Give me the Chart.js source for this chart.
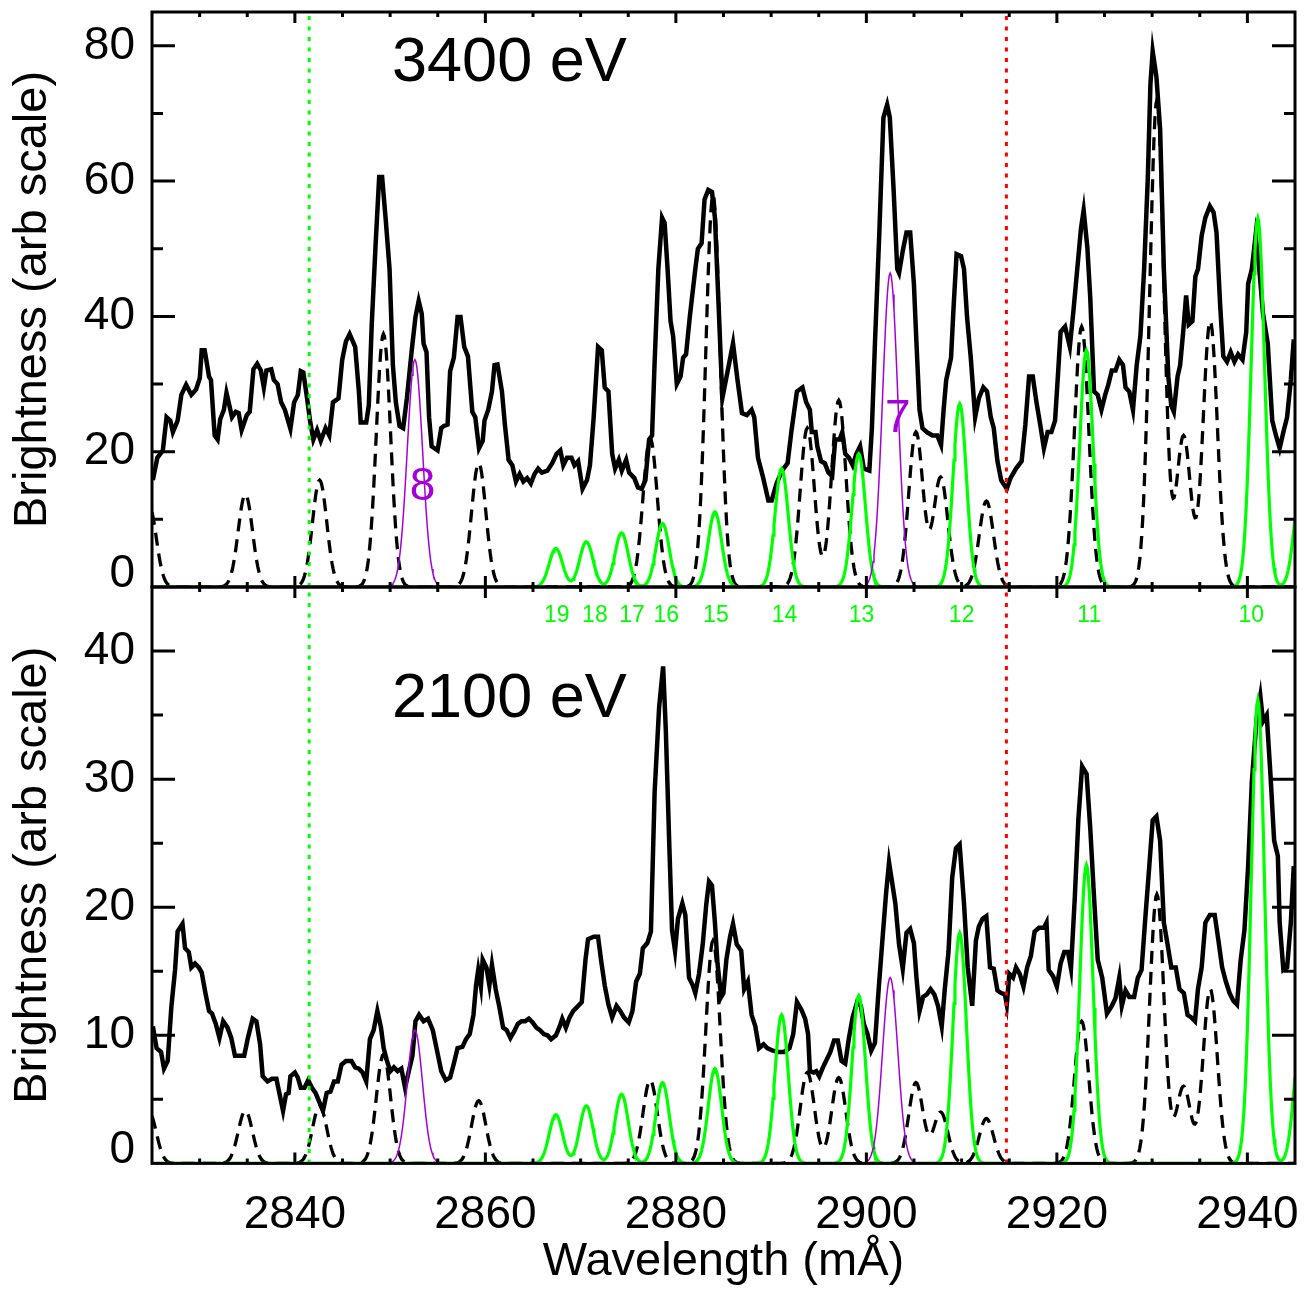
<!DOCTYPE html>
<html>
<head>
<meta charset="utf-8">
<script src="https://cdn.jsdelivr.net/npm/chart.js@4.4.1/dist/chart.umd.min.js"></script>
<style>
  body { margin: 0; background: #fff; }
  #wrap { position: relative; width: 1307px; height: 1289px; }
  canvas { position: absolute; left: 0; }
</style>
</head>
<body>
<div id="wrap">
  <canvas id="topPanel" width="1307" height="600" style="top:0"></canvas>
  <canvas id="bottomPanel" width="1307" height="712" style="top:577px"></canvas>
</div>
<script>
// ---- data ----
var xMin = 2825, xMax = 2945;
var xTicks = [2840, 2860, 2880, 2900, 2920, 2940];
var yTicksTop = [0, 20, 40, 60, 80];
var yTicksBottom = [0, 10, 20, 30, 40];
var markerLines = [2841.5, 2914.7];          // green / red dotted lines
var energies = ['3400 eV', '2100 eV'];

// measured spectrum, 3400 eV
var waveTop = [
  2825.09, 2825.56, 2826.14, 2826.53, 2826.92, 2827.19, 2827.69, 2828.08, 2828.58, 2829.13,
  2829.63, 2830.02, 2830.22, 2830.53, 2830.99, 2831.19, 2831.58, 2831.89, 2832.16, 2832.55,
  2832.82, 2833.13, 2833.40, 2833.79, 2834.10, 2834.41, 2834.95, 2835.26, 2835.65, 2836.04,
  2836.43, 2836.74, 2837.01, 2837.52, 2837.79, 2838.18, 2838.56, 2838.95, 2839.53, 2839.92,
  2840.31, 2840.62, 2840.89, 2841.28, 2841.59, 2841.94, 2842.33, 2842.72, 2843.22, 2843.61,
  2844.00, 2844.58, 2844.97, 2845.36, 2845.75, 2846.33, 2846.72, 2846.91, 2847.49, 2847.76,
  2848.07, 2848.46, 2848.85, 2849.16, 2849.55, 2849.94, 2850.29, 2850.60, 2850.99, 2851.37,
  2851.76, 2852.27, 2852.66, 2853.00, 2853.32, 2853.51, 2853.82, 2854.09, 2854.36, 2854.98,
  2855.37, 2855.64, 2856.03, 2856.30, 2856.69, 2857.08, 2857.39, 2857.78, 2858.17, 2858.63,
  2858.94, 2859.33, 2859.72, 2859.91, 2860.30, 2860.69, 2860.96, 2861.27, 2861.74, 2862.05,
  2862.44, 2862.83, 2863.21, 2863.60, 2863.99, 2864.38, 2864.77, 2865.16, 2865.54, 2865.93,
  2866.51, 2867.02, 2867.48, 2867.87, 2868.18, 2868.57, 2869.04, 2869.35, 2869.74, 2870.20,
  2870.67, 2870.98, 2871.37, 2871.83, 2872.22, 2872.53, 2872.92, 2873.31, 2873.62, 2874.01,
  2874.32, 2874.78, 2875.09, 2875.64, 2876.02, 2876.41, 2876.80, 2877.19, 2877.50, 2877.77,
  2878.16, 2878.55, 2878.82, 2879.13, 2879.44, 2879.71, 2880.10, 2880.49, 2880.76, 2881.07,
  2881.46, 2882.04, 2882.31, 2882.70, 2883.01, 2883.40, 2883.79, 2884.10, 2884.49, 2884.88,
  2886.00, 2886.47, 2886.94, 2887.45, 2887.95, 2888.23, 2888.62, 2889.12, 2889.71, 2890.06,
  2890.57, 2891.15, 2891.73, 2892.12, 2892.71, 2893.29, 2893.68, 2894.07, 2894.27, 2894.66,
  2894.85, 2895.24, 2895.63, 2896.02, 2896.41, 2896.73, 2897.19, 2897.47, 2897.78, 2898.17,
  2898.56, 2898.95, 2899.34, 2899.73, 2900.31, 2900.58, 2900.90, 2901.36, 2901.79, 2902.18,
  2902.46, 2902.85, 2903.24, 2903.43, 2903.82, 2904.21, 2904.60, 2904.99, 2905.26, 2905.58,
  2905.89, 2906.35, 2906.94, 2907.45, 2907.84, 2908.11, 2908.38, 2908.89, 2909.16, 2909.47,
  2909.94, 2910.25, 2910.57, 2910.96, 2911.42, 2911.81, 2912.28, 2912.67, 2913.06, 2913.37,
  2913.76, 2914.15, 2914.74, 2915.13, 2915.71, 2916.30, 2916.69, 2917.08, 2917.47, 2917.86,
  2918.25, 2918.64, 2919.03, 2919.42, 2919.81, 2920.08, 2920.39, 2920.86, 2921.36, 2921.75,
  2922.14, 2922.53, 2922.81, 2923.20, 2923.51, 2923.90, 2924.29, 2924.68, 2925.07, 2925.38,
  2925.77, 2926.16, 2926.55, 2926.94, 2927.21, 2927.60, 2927.99, 2928.38, 2928.77, 2929.16,
  2929.55, 2929.82, 2930.06, 2930.45, 2930.84, 2931.23, 2931.70, 2932.01, 2932.28, 2932.67,
  2932.94, 2933.26, 2933.57, 2933.84, 2934.23, 2934.54, 2934.82, 2935.20, 2935.59, 2936.06,
  2936.45, 2936.76, 2937.15, 2937.47, 2937.86, 2938.25, 2938.64, 2939.03, 2939.49, 2939.88,
  2940.08, 2940.47, 2940.86, 2941.25, 2941.64, 2942.14, 2942.61, 2943.00, 2943.39, 2943.78,
  2944.17, 2944.56, 2944.87
];
var brightTop = [
  15.8, 19.1, 20.2, 25.1, 24.6, 22.9, 24.6, 28.4, 29.9, 28.4,
  29.2, 30.9, 35.0, 35.0, 31.1, 30.6, 22.4, 21.8, 24.8, 26.2,
  28.7, 26.8, 25.1, 25.9, 25.7, 23.2, 25.4, 25.9, 32.2, 33.0,
  32.0, 29.5, 32.0, 32.2, 30.6, 30.0, 27.3, 26.2, 23.4, 27.3,
  28.4, 31.9, 31.7, 27.9, 24.6, 21.8, 23.2, 21.6, 23.5, 22.4,
  27.3, 27.9, 33.6, 36.3, 37.4, 35.5, 28.9, 24.3, 24.3, 26.8,
  38.8, 50.2, 60.6, 60.6, 54.1, 47.0, 32.8, 27.3, 23.8, 23.5,
  27.9, 35.0, 39.9, 42.3, 40.4, 36.0, 34.7, 25.1, 20.8, 20.2,
  23.5, 23.8, 24.0, 31.9, 33.9, 39.9, 39.9, 35.5, 34.1, 25.9,
  25.1, 20.5, 21.6, 24.6, 26.2, 28.9, 32.8, 32.9, 28.9, 24.0,
  18.8, 18.0, 15.6, 16.7, 15.6, 16.1, 15.3, 16.7, 17.5, 16.9,
  17.2, 18.3, 19.7, 20.2, 18.0, 19.1, 19.1, 18.0, 18.6, 14.5,
  15.8, 18.0, 25.1, 35.5, 35.0, 29.5, 28.9, 19.7, 17.5, 18.8,
  17.2, 18.8, 16.9, 16.1, 14.7, 14.5, 15.8, 21.8, 22.4, 33.3,
  47.0, 54.6, 53.8, 47.0, 39.3, 37.1, 30.0, 31.1, 33.9, 34.4,
  39.9, 47.0, 50.0, 50.8, 57.3, 58.7, 58.4, 54.6, 41.5, 27.9,
  36.0, 30.6, 25.7, 25.4, 26.2, 25.1, 19.1, 16.4, 12.8, 12.8,
  15.3, 17.2, 18.3, 22.9, 28.9, 29.5, 27.3, 26.2, 22.9, 22.9,
  20.8, 18.6, 18.3, 16.9, 16.4, 21.8, 21.8, 22.9, 19.7, 19.1,
  18.0, 19.7, 20.8, 17.5, 17.2, 23.5, 36.0, 52.4, 69.4, 71.3,
  69.4, 59.0, 47.0, 46.4, 49.7, 52.4, 52.4, 44.8, 36.0, 26.2,
  23.5, 22.9, 22.4, 22.4, 21.0, 26.2, 30.6, 33.9, 41.5, 49.2,
  48.9, 47.0, 39.9, 33.9, 25.1, 27.9, 29.5, 28.9, 25.1, 23.5,
  18.6, 15.8, 14.5, 16.1, 17.5, 18.6, 24.0, 31.1, 31.1, 27.3,
  24.0, 20.5, 22.9, 22.9, 24.6, 30.6, 37.7, 38.5, 35.5, 41.0,
  47.0, 53.0, 55.7, 50.2, 42.6, 28.9, 28.4, 26.2, 28.4, 29.8,
  32.0, 32.0, 33.6, 32.8, 29.5, 28.9, 26.2, 32.8, 37.1, 47.0,
  60.6, 74.3, 79.2, 75.4, 67.7, 47.0, 31.1, 26.8, 25.9, 31.1,
  32.8, 37.7, 43.1, 38.8, 39.3, 45.9, 47.0, 51.9, 54.6, 56.3,
  55.4, 52.4, 41.5, 34.1, 33.3, 34.7, 33.3, 34.4, 33.6, 37.7,
  44.8, 47.0, 51.9, 47.0, 40.4, 36.0, 24.6, 22.4, 20.5, 22.9,
  25.1, 30.6, 36.6
];

// measured spectrum, 2100 eV
var waveBottom = [
  2825.09, 2825.48, 2825.95, 2826.26, 2826.65, 2827.03, 2827.42, 2827.69, 2828.20, 2828.47,
  2828.86, 2829.13, 2829.52, 2829.91, 2830.22, 2830.61, 2830.99, 2831.30, 2831.69, 2832.08,
  2832.47, 2832.93, 2833.32, 2833.71, 2834.29, 2834.68, 2835.07, 2835.57, 2835.96, 2836.35,
  2836.62, 2837.13, 2837.59, 2838.06, 2838.37, 2838.76, 2839.07, 2839.34, 2839.53, 2840.00,
  2840.31, 2840.62, 2841.01, 2841.40, 2841.79, 2842.17, 2842.56, 2842.95, 2843.34, 2843.73,
  2844.11, 2844.50, 2844.89, 2845.36, 2845.94, 2846.33, 2846.72, 2847.10, 2847.49, 2847.88,
  2848.27, 2848.66, 2849.04, 2849.32, 2849.63, 2850.02, 2850.40, 2850.79, 2851.18, 2851.57,
  2851.96, 2852.34, 2852.66, 2853.04, 2853.51, 2853.98, 2854.48, 2854.87, 2855.37, 2855.84,
  2856.30, 2856.69, 2857.08, 2857.59, 2857.97, 2858.36, 2858.75, 2859.02, 2859.25, 2859.53,
  2859.72, 2860.11, 2860.42, 2860.69, 2861.08, 2861.47, 2861.86, 2862.24, 2862.63, 2863.02,
  2863.41, 2863.80, 2864.18, 2864.57, 2864.96, 2865.35, 2865.74, 2866.13, 2866.51, 2866.90,
  2867.41, 2867.80, 2868.07, 2868.45, 2868.84, 2869.23, 2869.62, 2870.12, 2870.51, 2870.78,
  2871.37, 2871.83, 2872.14, 2872.53, 2872.92, 2873.31, 2873.77, 2874.16, 2874.55, 2875.05,
  2875.44, 2875.83, 2876.22, 2876.53, 2877.00, 2877.38, 2877.77, 2878.24, 2878.66, 2878.94,
  2879.32, 2879.60, 2879.91, 2880.22, 2880.68, 2880.99, 2881.38, 2881.77, 2882.04, 2882.43,
  2882.82, 2883.20, 2883.48, 2883.79, 2884.10, 2884.37, 2884.76,
  2884.99, 2885.30, 2885.69, 2886.00, 2886.39, 2886.86, 2887.17, 2887.56, 2887.95, 2888.34,
  2888.73, 2889.20, 2889.59, 2890.18, 2890.76, 2891.35, 2891.93, 2892.32, 2892.71, 2893.18,
  2893.57, 2893.88, 2894.07, 2894.46, 2894.74, 2895.05, 2895.44, 2895.83, 2896.22, 2896.61,
  2897.00, 2897.39, 2897.78, 2898.17, 2898.56, 2899.03, 2899.42, 2899.73, 2900.12, 2900.51,
  2900.90, 2901.29, 2901.68, 2902.07, 2902.38, 2902.69, 2903.04, 2903.43, 2903.82, 2904.21,
  2904.60, 2904.99, 2905.26, 2905.58, 2905.96, 2906.35, 2906.74, 2907.13, 2907.52, 2907.91,
  2908.23, 2908.62, 2909.01, 2909.40, 2909.79, 2910.25, 2910.64, 2911.11, 2911.50, 2911.81,
  2912.20, 2912.59, 2912.98, 2913.37, 2913.76, 2914.15, 2914.54, 2914.74, 2915.01, 2915.40,
  2915.71, 2916.10, 2916.49, 2916.88, 2917.27, 2917.66, 2918.13, 2918.64, 2918.91, 2919.14,
  2919.61, 2920.00, 2920.39, 2920.78, 2921.17, 2921.48, 2921.87, 2922.26, 2922.65, 2923.12,
  2923.51, 2923.90, 2924.29, 2924.76, 2925.26, 2925.77, 2926.16, 2926.55, 2926.82, 2927.21,
  2927.60, 2928.11, 2928.50, 2928.89, 2929.28, 2929.67, 2930.06, 2930.45, 2930.84, 2931.23,
  2931.62, 2932.01, 2932.48, 2932.87, 2933.33, 2933.72, 2934.11, 2934.50, 2934.81, 2935.20,
  2935.59, 2936.06, 2936.57, 2936.96, 2937.35, 2937.74, 2938.13, 2938.52, 2938.91, 2939.30,
  2939.69, 2940.08, 2940.47, 2940.97, 2941.36, 2941.64, 2942.03, 2942.42, 2942.81, 2943.20,
  2943.39, 2943.78, 2944.17, 2944.56, 2944.87
];
var brightBottom = [
  10.7, 9.0, 8.7, 7.4, 8.0, 12.2, 15.1, 18.1, 18.7, 16.8,
  16.5, 15.3, 15.6, 15.3, 14.9, 13.3, 11.9, 11.7, 10.9, 9.8,
  11.1, 10.6, 9.8, 8.4, 8.4, 8.4, 9.8, 11.3, 11.1, 9.3,
  6.8, 6.4, 6.6, 6.6, 5.5, 4.1, 5.4, 5.5, 6.8, 7.1,
  6.7, 5.9, 5.9, 6.5, 5.9, 5.5, 4.8, 4.1, 5.5, 5.6,
  6.4, 6.4, 7.7, 8.0, 8.0, 7.5, 7.4, 7.1, 6.4, 9.7,
  10.4, 11.9, 10.6, 9.0, 8.1, 7.2, 7.5, 7.2, 7.4, 5.9,
  7.2, 8.4, 11.1, 11.6, 11.1, 11.3, 10.4, 9.0, 7.2, 6.5,
  6.7, 7.8, 9.0, 9.1, 9.7, 10.1, 11.6, 13.9, 15.1, 13.8,
  15.9, 15.3, 13.9, 15.5, 13.6, 12.2, 10.6, 10.4, 9.8, 10.3,
  10.9, 11.1, 11.1, 11.3, 11.0, 10.6, 10.4, 10.1, 10.0, 9.7,
  10.0, 10.7, 11.3, 10.6, 11.4, 11.9, 12.2, 12.6, 15.9, 17.5,
  17.7, 17.7, 15.9, 13.9, 12.4, 11.4, 12.3, 11.9, 11.4, 11.0,
  11.9, 14.2, 14.8, 16.8, 17.2, 18.1, 29.0, 35.6, 38.8, 33.9,
  24.6, 18.2, 16.6, 19.1, 20.3, 19.4, 14.5, 13.9, 13.3, 14.8,
  17.1, 20.3, 22.0, 21.7, 18.8, 15.6, 13.0,
  13.3, 15.9, 17.7, 18.7, 17.1, 16.6, 13.6, 14.2, 11.6, 10.7,
  9.0, 9.3, 9.0, 8.8, 8.7, 8.7, 9.0, 10.1, 12.6, 12.0,
  11.3, 10.1, 7.2, 7.1, 7.2, 6.8, 7.5, 8.1, 8.7, 9.6,
  9.6, 8.0, 7.8, 9.8, 11.4, 12.6, 12.3, 10.9, 10.1, 8.8,
  9.4, 13.6, 17.4, 21.1, 23.5, 22.0, 20.3, 17.1, 15.2, 18.0,
  18.3, 17.2, 14.5, 11.9, 13.0, 13.2, 13.6, 13.2, 12.3, 10.7,
  13.6, 16.5, 22.3, 24.6, 24.9, 20.3, 15.3, 12.3, 17.4, 18.5,
  19.1, 19.3, 15.3, 15.2, 13.5, 13.3, 13.2, 12.4, 14.8, 14.5,
  15.3, 14.8, 13.8, 15.3, 16.2, 18.1, 18.4, 18.4, 18.8, 15.1,
  14.6, 13.8, 15.6, 16.5, 16.5, 15.2, 20.6, 26.9, 31.0, 30.4,
  26.1, 20.8, 15.9, 14.5, 11.7, 12.3, 12.9, 14.5, 12.3, 13.5,
  13.0, 13.0, 14.5, 15.1, 19.1, 22.9, 26.8, 27.1, 25.2, 18.8,
  17.1, 15.3, 15.3, 13.6, 13.3, 11.6, 11.4, 11.1, 13.6, 15.3,
  18.8, 19.4, 19.4, 17.4, 15.3, 14.2, 13.3, 12.7, 12.4, 15.9,
  18.2, 23.2, 29.8, 34.7, 36.5, 34.5, 35.0, 30.4, 25.2, 24.0,
  18.8, 15.1, 15.3, 18.8, 23.2
];

// fitted lines: centre (mÅ) and peak height in each panel
var dashCenters = [2824.7, 2834.8, 2842.6, 2849.3, 2859.3, 2877.3, 2883.9, 2893.8,
                   2897.1, 2905.2, 2907.8, 2912.6, 2922.6, 2930.5, 2933.3, 2936.1];
var dashTop     = [12, 13.7, 15.8, 37.4, 18.3, 22, 58, 23.5, 27.6, 22.9, 16.2, 12.7, 38.5, 72, 22.3, 39.3];
var dashBottom  = [4, 4.1, 4.5, 8.5, 4.9, 6.5, 17.4, 7.1, 6.7, 6.3, 4.0, 3.5, 11.1, 21, 6.0, 13.6];

var greenCenters = [2867.4, 2870.6, 2874.3, 2878.6, 2884.1, 2891.1, 2899.2, 2909.8, 2923.1, 2941.1, 2945.6];
var greenTop     = [5.7, 6.7, 8.0, 9.4, 11.1, 17.5, 19.7, 27.1, 35.0, 54.5, 14.5];
var greenBottom  = [3.8, 4.5, 5.4, 6.3, 7.4, 11.6, 13.1, 18.0, 23.3, 36.2, 9.7];
var lineNumbers  = ['19', '18', '17', '16', '15', '14', '13', '12', '11', '10'];
var lineNumberAt = [2867.5, 2871.5, 2875.4, 2879.0, 2884.2, 2891.4, 2899.5, 2910.0, 2923.4, 2940.4];

var purpleCenters = [2852.6, 2902.5];
var purpleTop     = [33.6, 46.4];
var purpleBottom  = [10.4, 14.5];
var purpleNames   = ['8', '7'];
var purpleNameX   = [2853.4, 2903.3];
var purpleNameY   = [12.8, 22.9];

var dashWidth = 0.75, greenWidth = 0.7, purpleWidth = 0.8;   // gaussian sigma, mÅ

// ---- drawing ----
var FONT = "'Liberation Sans', Arial, Helvetica, sans-serif";
var GREEN = '#00ff00', PURPLE = '#a500d8', RED = '#ff0000';
Chart.defaults.font.family = FONT;
Chart.defaults.color = '#000';

function zip(xs, ys) {
  return xs.map(function (x, i) { return {x: x, y: ys[i]}; });
}

// line profile = sum of gaussians with the read centres / heights
function profile(centers, heights, sigma) {
  var pts = [];
  for (var i = 0; i <= 1200; i++) {
    var x = xMin + i * 0.1, y = 0;
    for (var k = 0; k < centers.length; k++) {
      var d = x - centers[k];
      y += heights[k] * Math.exp(-d * d / (2 * sigma * sigma));
    }
    pts.push({x: x, y: y});
  }
  return pts;
}

function frame(majorStep, minorStep) {
  return {
    id: 'frame',
    afterDatasetsDraw: function (chart) {
      var ctx = chart.ctx, a = chart.chartArea, xs = chart.scales.x, ys = chart.scales.y;
      ctx.save();
      ctx.strokeStyle = '#000';
      ctx.lineWidth = 3;
      ctx.beginPath();
      for (var v = xMin + 5; v < xMax; v += 5) {
        var p = xs.getPixelForValue(v);
        var len = v % 20 === 0 ? 11 : 5;
        ctx.moveTo(p, a.bottom); ctx.lineTo(p, a.bottom - len);
        ctx.moveTo(p, a.top); ctx.lineTo(p, a.top + len);
      }
      for (var w = minorStep; w < ys.max; w += minorStep) {
        var q = ys.getPixelForValue(w);
        var l2 = w % majorStep === 0 ? 23 : 11;
        ctx.moveTo(a.left, q); ctx.lineTo(a.left + l2, q);
        ctx.moveTo(a.right, q); ctx.lineTo(a.right - l2, q);
      }
      ctx.stroke();
      ctx.strokeRect(a.left, a.top, a.right - a.left, a.bottom - a.top);
      // the zero label sits just above the bottom axis
      ctx.fillStyle = '#000';
      ctx.font = '46px ' + FONT;
      ctx.textAlign = 'right';
      ctx.textBaseline = 'middle';
      ctx.fillText('0', a.left - 17, ys.getPixelForValue(0) - 13);
      ctx.restore();
    }
  };
}

function notes(energy, energyY, isTop) {
  return {
    id: 'notes',
    afterDatasetsDraw: function (chart) {
      var ctx = chart.ctx, xs = chart.scales.x, ys = chart.scales.y;
      ctx.save();
      ctx.fillStyle = '#000';
      ctx.font = '63px ' + FONT;
      ctx.textAlign = 'left';
      ctx.textBaseline = 'alphabetic';
      ctx.fillText(energy, xs.getPixelForValue(2850.2), ys.getPixelForValue(energyY));
      ctx.textAlign = 'center';
      if (isTop) {
        ctx.fillStyle = PURPLE;
        ctx.font = '46px ' + FONT;
        purpleNames.forEach(function (n, i) {
          ctx.fillText(n, xs.getPixelForValue(purpleNameX[i]), ys.getPixelForValue(purpleNameY[i]));
        });
      } else {
        ctx.fillStyle = GREEN;
        ctx.font = '23px ' + FONT;
        lineNumbers.forEach(function (n, i) {
          ctx.fillText(n, xs.getPixelForValue(lineNumberAt[i]), ys.getPixelForValue(42.3));
        });
      }
      ctx.restore();
    }
  };
}

function panel(id, opt) {
  var datasets = [
    {data: [{x: markerLines[0], y: 0}, {x: markerLines[0], y: opt.yMax}], borderColor: GREEN,
     borderWidth: 3, borderDash: [4, 6.5], order: 0},
    {data: [{x: markerLines[1], y: 0}, {x: markerLines[1], y: opt.yMax}], borderColor: RED,
     borderWidth: 3, borderDash: [4, 6.5], order: 0},
    {data: profile(purpleCenters, opt.purple, purpleWidth), borderColor: PURPLE, borderWidth: 1.5, order: 1},
    {data: profile(greenCenters, opt.green, greenWidth), borderColor: GREEN, borderWidth: 3.2, order: 2},
    {data: profile(dashCenters, opt.dash, dashWidth), borderColor: '#000', borderWidth: 3.3,
     borderDash: [13, 8], order: 3},
    {data: zip(opt.wave, opt.bright), borderColor: '#000', borderWidth: 4.5, order: 4}
  ];
  var xScale = {
    type: 'linear', min: xMin, max: xMax, display: false,
    afterFit: function (s) { s.paddingLeft = 0; s.paddingRight = 0; }
  };
  if (opt.showX) {
    xScale = {
      type: 'linear', min: xMin, max: xMax,
      afterBuildTicks: function (s) { s.ticks = xTicks.map(function (v) { return {value: v}; }); },
      afterFit: function (s) { s.height = 125.6; s.paddingLeft = 0; s.paddingRight = 0; },
      grid: {display: false, drawTicks: false},
      border: {display: false},
      ticks: {font: {size: 46}, color: '#000', padding: 24, maxRotation: 0, autoSkip: false,
              callback: function (v) { return String(v); }},
      title: {display: true, text: 'Wavelength (mÅ)', font: {size: 47, lineHeight: 1.0}, color: '#000',
              padding: {top: 0, bottom: 3}}
    };
  }
  return new Chart(document.getElementById(id), {
    type: 'line',
    data: {datasets: datasets},
    options: {
      responsive: false,
      animation: false,
      devicePixelRatio: 1,
      layout: {padding: opt.padding},
      elements: {point: {radius: 0}, line: {tension: 0, borderCapStyle: 'butt'}},
      plugins: {legend: {display: false}, tooltip: {enabled: false}},
      scales: {
        x: xScale,
        y: {
          min: 0, max: opt.yMax,
          afterBuildTicks: function (s) { s.ticks = opt.yTicks.map(function (v) { return {value: v}; }); },
          afterFit: function (s) { s.width = 152; s.paddingTop = 0; s.paddingBottom = 0; },
          grid: {display: false, drawTicks: false},
          border: {display: false},
          ticks: {font: {size: 46}, color: '#000', padding: 17,
                  callback: function (v) { return v === 0 ? '' : String(v); }},
          title: {display: true, text: 'Brightness (arb scale)', font: {size: 47}, color: '#000',
                  padding: {top: 5, bottom: 0}}
        }
      }
    },
    plugins: [frame(opt.major, opt.minor), notes(opt.energy, opt.energyY, opt.isTop)]
  });
}

panel('topPanel', {
  yMax: 85, yTicks: yTicksTop, major: 20, minor: 10,
  wave: waveTop, bright: brightTop, dash: dashTop, green: greenTop, purple: purpleTop,
  energy: energies[0], energyY: 74.8, isTop: true, showX: false,
  padding: {left: 0, right: 12, top: 12, bottom: 13}
});
panel('bottomPanel', {
  yMax: 45, yTicks: yTicksBottom, major: 10, minor: 5,
  wave: waveBottom, bright: brightBottom, dash: dashBottom, green: greenBottom, purple: purpleBottom,
  energy: energies[1], energyY: 34.85, isTop: false, showX: true,
  padding: {left: 0, right: 12, top: 10, bottom: 0}
});
</script>
</body>
</html>
